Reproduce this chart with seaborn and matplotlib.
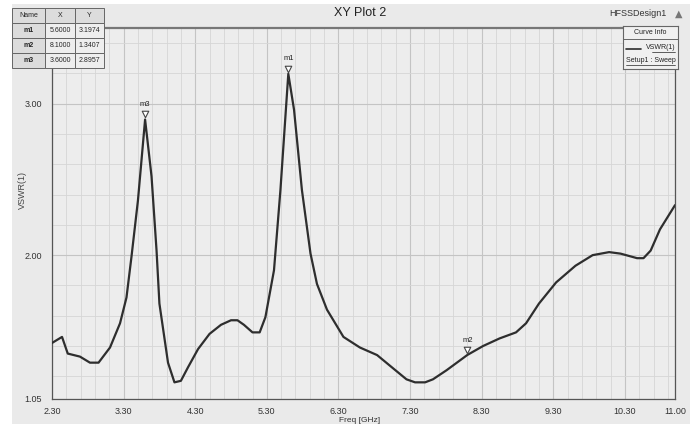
import matplotlib
matplotlib.use("Agg")
import matplotlib.pyplot as plt
import matplotlib.ticker as mticker
import seaborn as sns
import pandas as pd

# VSWR curve
freq = [2.30, 2.44, 2.52, 2.69, 2.83, 2.95, 3.11, 3.25, 3.34, 3.41, 3.50,
        3.60, 3.69, 3.76, 3.80, 3.92, 4.01, 4.10, 4.20, 4.34, 4.50, 4.66,
        4.80, 4.89, 4.98, 5.10, 5.20, 5.28, 5.40, 5.49, 5.60, 5.68, 5.79,
        5.91, 6.00, 6.14, 6.37, 6.60, 6.84, 7.07, 7.25, 7.37, 7.51, 7.62,
        7.81, 8.10, 8.32, 8.55, 8.78, 8.92, 9.10, 9.34, 9.61, 9.85, 10.08,
        10.24, 10.47, 10.56, 10.66, 10.79, 11.00]
vswr = [1.42, 1.46, 1.35, 1.33, 1.29, 1.29, 1.39, 1.55, 1.72, 1.99, 2.36,
        2.8957, 2.52, 2.03, 1.68, 1.29, 1.16, 1.17, 1.26, 1.38, 1.48, 1.54,
        1.57, 1.57, 1.54, 1.49, 1.49, 1.59, 1.90, 2.43, 3.1974, 2.96, 2.43,
        2.01, 1.81, 1.64, 1.46, 1.39, 1.34, 1.25, 1.18, 1.16, 1.16, 1.18,
        1.24, 1.3407, 1.40, 1.45, 1.49, 1.55, 1.68, 1.82, 1.93, 2.00, 2.02,
        2.01, 1.98, 1.98, 2.03, 2.17, 2.33]

marker_names = ["m1", "m2", "m3"]
marker_x = [5.60, 8.10, 3.60]
marker_y = [3.1974, 1.3407, 2.8957]

x_ticks = [2.30, 3.30, 4.30, 5.30, 6.30, 7.30, 8.30, 9.30, 10.30, 11.00]
y_ticks = [1.05, 2.00, 3.00]

sns.set_style("white")
plt.rcParams["font.family"] = ["Liberation Sans", "DejaVu Sans"]

bg = "#eaeaea"
line_col = "#2e2e2e"

fig = plt.figure(figsize=(6.98, 4.24), dpi=100, facecolor="white")
# screenshot backdrop
backdrop = fig.add_axes([12 / 698, 0.0, 678 / 698, 1 - 4 / 424], zorder=-5)
backdrop.axis("off")
backdrop.add_patch(plt.Rectangle((0, 0), 1, 1, transform=backdrop.transAxes,
                                 facecolor=bg, edgecolor="none"))

ax = fig.add_axes([52 / 698, 1 - 399 / 424, 623 / 698, 371 / 424], zorder=1)
ax.set_facecolor("#ededed")

df = pd.DataFrame({"Freq": freq, "VSWR": vswr})
sns.lineplot(data=df, x="Freq", y="VSWR", ax=ax, color=line_col,
             linewidth=1.6, zorder=3)

# markers
ax.scatter(marker_x, [v + 0.035 for v in marker_y], marker="v", s=22,
           facecolors="white", edgecolors="#444444", linewidths=0.8,
           zorder=4)
for n, mx, my in zip(marker_names, marker_x, marker_y):
    ax.text(mx, my + 0.075, n, ha="center", va="bottom", fontsize=5.5,
            color="#222222", zorder=5)

ax.set_xlim(2.30, 11.00)
ax.set_ylim(1.05, 3.50)
ax.set_xticks(x_ticks)
ax.set_xticklabels([f"{t:.2f}" for t in x_ticks])
ax.set_yticks(y_ticks)
ax.set_yticklabels([f"{t:.2f}" for t in y_ticks])
ax.xaxis.set_minor_locator(mticker.FixedLocator(
    [2.3 + 0.2 * i for i in range(44)]))
ax.yaxis.set_minor_locator(mticker.FixedLocator(
    [1.2 + 0.2 * i for i in range(12)]))

ax.grid(which="major", color="#c4c4c4", linewidth=0.8)
ax.grid(which="minor", color="#d6d6d6", linewidth=0.6)
ax.tick_params(which="major", direction="out", length=5, width=0.8,
               labelsize=6.5, colors="#333333", pad=2)
ax.tick_params(axis="x", which="major", pad=1)
ax.tick_params(which="minor", direction="out", length=2.5, width=0.7,
               colors="#333333")
for side in ["left", "bottom", "right", "top"]:
    ax.spines[side].set_color("#555555")
    ax.spines[side].set_linewidth(0.9)
ax.spines["top"].set_linewidth(1.6)
ax.spines["top"].set_color("#777777")

ax.set_xlabel("")
ax.set_ylabel("")
fig.text(360 / 698, 1 - 420 / 424, "Freq [GHz]", ha="center", va="center",
         fontsize=6, color="#333333")
fig.text(22 / 698, 1 - 190 / 424, "VSWR(1)", ha="center", va="center",
         rotation=90, fontsize=6.5, color="#444444")

fig.text(360 / 698, 1 - 13 / 424, "XY Plot 2", ha="center", va="center",
         fontsize=9, color="#222222")
fig.text(638 / 698, 1 - 14 / 424, "HFSSDesign1", ha="center", va="center",
         fontsize=6.5, color="#333333")
fig.text(679 / 698, 1 - 14 / 424, "\u25b2", ha="center", va="center",
         fontsize=7, color="#777777", family="DejaVu Sans")

# marker table
tax = fig.add_axes([12 / 698, 1 - 68 / 424, 92 / 698, 60 / 424], zorder=3)
tax.axis("off")
cells = [[n, f"{x:.4f}", f"{y:.4f}"]
         for n, x, y in zip(marker_names, marker_x, marker_y)]
tbl = tax.table(cellText=cells, colLabels=["Name", "X", "Y"],
                bbox=[0, 0, 1, 1], cellLoc="center",
                colWidths=[33, 30, 29])
tbl.auto_set_font_size(False)
tbl.set_fontsize(5)
for (r, c), cell in tbl.get_celld().items():
    cell.set_edgecolor("#666666")
    cell.set_linewidth(0.7)
    cell.set_facecolor("#dcdcdc" if r == 0 or c == 0 else "#eeeeee")
    if c == 0 and r > 0:
        cell.get_text().set_fontweight("bold")

# curve info box
lax = fig.add_axes([623 / 698, 1 - 69 / 424, 55 / 698, 43 / 424], zorder=3)
lax.set_xlim(0, 1)
lax.set_ylim(0, 1)
lax.set_xticks([])
lax.set_yticks([])
lax.set_facecolor("#f0f0f0")
for s in lax.spines.values():
    s.set_color("#666666")
    s.set_linewidth(0.8)
lax.axhline(0.70, color="#666666", linewidth=0.7)
lax.text(0.5, 0.85, "Curve Info", ha="center", va="center", fontsize=5,
         color="#222222")
lax.plot([0.05, 0.33], [0.47, 0.47], color=line_col, linewidth=1.2)
lax.text(0.95, 0.50, "VSWR(1)", ha="right", va="center", fontsize=5,
         color="#222222")
lax.plot([0.52, 0.95], [0.39, 0.39], color="#222222", linewidth=0.5)
lax.text(0.5, 0.20, "Setup1 : Sweep", ha="center", va="center",
         fontsize=5, color="#222222")
lax.plot([0.05, 0.95], [0.09, 0.09], color="#222222", linewidth=0.5)

fig.savefig("out.png", dpi=100, facecolor=fig.get_facecolor())
